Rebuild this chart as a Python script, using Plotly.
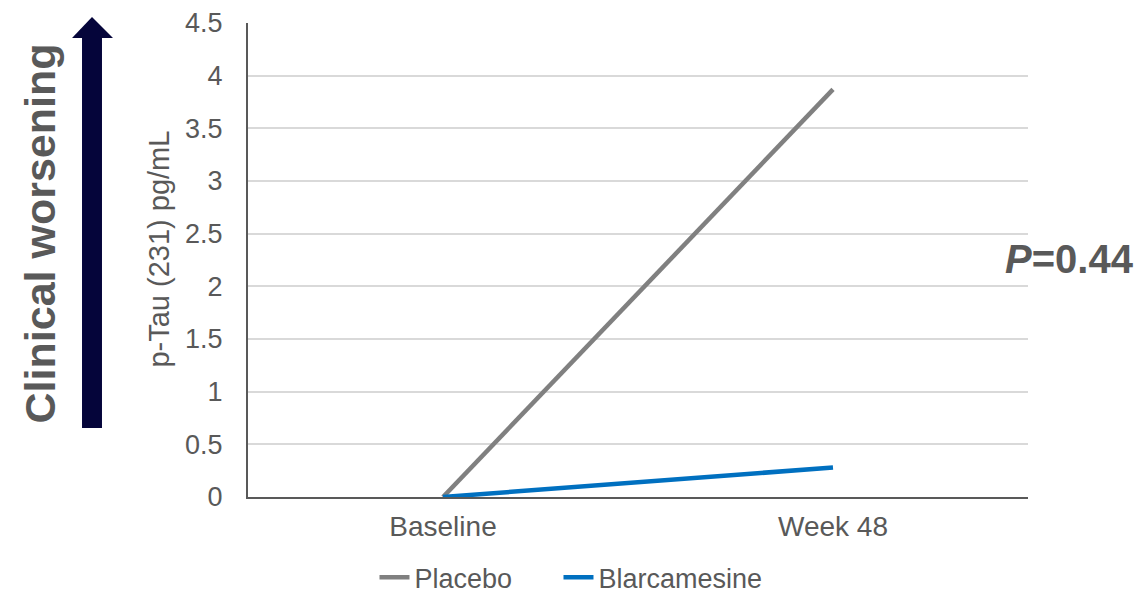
import plotly.graph_objects as go

# Visits and change in p-Tau (231), pg/mL
visits = ["Baseline", "Week 48"]
placebo = [0.0, 3.87]
blarcamesine = [0.0, 0.28]
y_ticks = [0, 0.5, 1, 1.5, 2, 2.5, 3, 3.5, 4, 4.5]
y_tick_text = ["0", "0.5", "1", "1.5", "2", "2.5", "3", "3.5", "4", "4.5"]

FONT = "Arial, Liberation Sans, sans-serif"
TEXT = "#595959"
NAVY = "#05053a"

fig = go.Figure()
fig.add_trace(go.Scatter(x=visits, y=placebo, name="Placebo", mode="lines",
                         line=dict(color="#808080", width=4.5), legend="legend"))
fig.add_trace(go.Scatter(x=visits, y=blarcamesine, name="Blarcamesine", mode="lines",
                         line=dict(color="#0070C0", width=4.5), legend="legend2"))

# upward "worsening" arrow left of the axis
fig.add_shape(type="rect", xref="paper", yref="paper",
              x0=-0.2128, x1=-0.1872, y0=0.1456, y1=0.9684,
              fillcolor=NAVY, line=dict(width=0))
fig.add_shape(type="path", xref="paper", yref="paper",
              path="M -0.2256 0.9684 L -0.2 1.0127 L -0.1731 0.9684 Z",
              fillcolor=NAVY, line=dict(width=0))

fig.add_annotation(text="<b>Clinical worsening</b>", xref="paper", yref="paper",
                   x=-0.2667, y=0.556, xanchor="center", yanchor="middle",
                   textangle=-90, showarrow=False,
                   font=dict(family=FONT, size=43, color=TEXT))
# y-axis title
fig.add_annotation(text="p-Tau (231) pg/mL", xref="paper", yref="paper",
                   x=-0.1141, y=0.522, xanchor="center", yanchor="middle",
                   textangle=-90, showarrow=False,
                   font=dict(family=FONT, size=29, color=TEXT))
fig.add_annotation(text="<b><i>P</i>=0.44</b>", xref="paper", yref="paper",
                   x=1.0526, y=0.502, xanchor="center", yanchor="middle",
                   showarrow=False,
                   font=dict(family=FONT, size=40, color=TEXT))

legend_style = dict(orientation="h", xref="container", xanchor="left",
                    yref="paper", y=-0.17, yanchor="middle",
                    font=dict(family=FONT, size=27, color=TEXT))

fig.update_layout(
    width=1140, height=593,
    margin=dict(l=248, r=112, t=23, b=96, autoexpand=False),
    paper_bgcolor="white", plot_bgcolor="white",
    font=dict(family=FONT, size=27, color=TEXT),
    showlegend=True,
    legend=dict(x=0.3285, **legend_style),
    legend2=dict(x=0.4899, **legend_style),
    xaxis=dict(range=[-0.5, 1.5], showline=True, linecolor=TEXT, linewidth=2,
               showgrid=False, ticks="", ticklabelstandoff=3, automargin=False,
               tickfont=dict(family=FONT, size=28, color=TEXT)),
    yaxis=dict(range=[0, 4.5], tickvals=y_ticks, ticktext=y_tick_text,
               showline=True, linecolor=TEXT, linewidth=2,
               showgrid=True, gridcolor="#d9d9d9", gridwidth=2,
               zeroline=False, ticks="", ticklabelstandoff=18, automargin=False,
               tickfont=dict(family=FONT, size=27, color=TEXT)),
)

fig.write_html("out.html")
